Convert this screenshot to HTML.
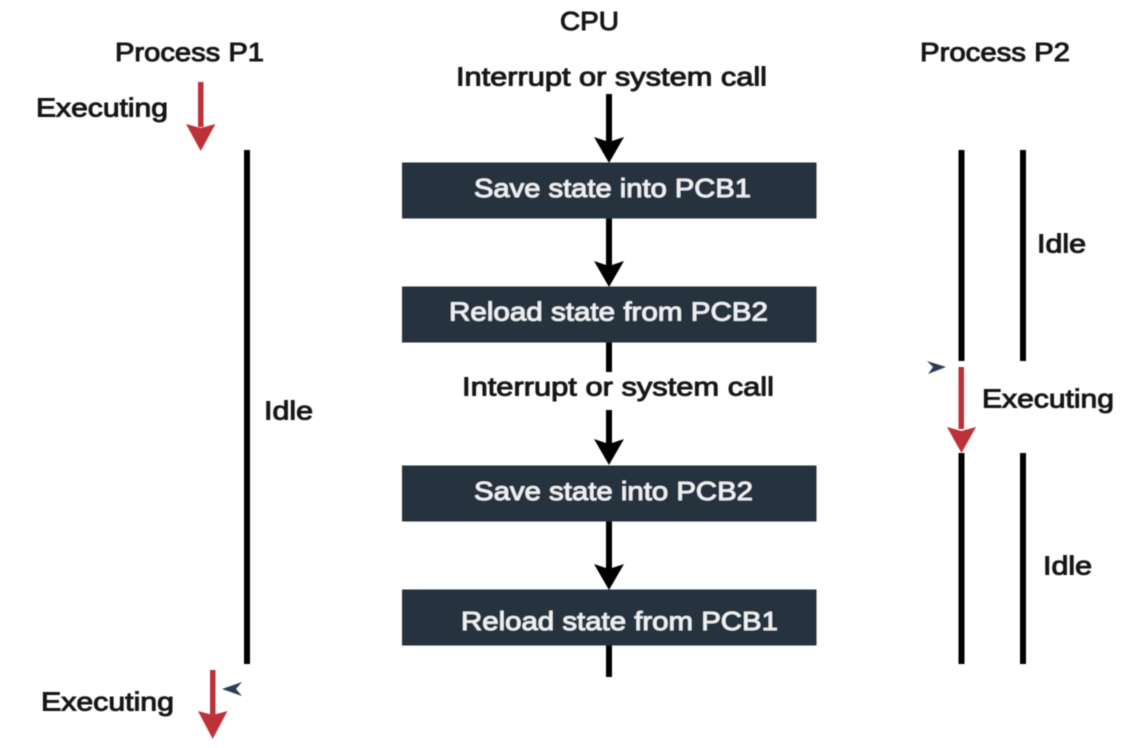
<!DOCTYPE html>
<html>
<head>
<meta charset="utf-8">
<style>
html,body{margin:0;padding:0;background:#fff;width:1144px;height:748px;overflow:hidden}
svg{display:block}
text{font-family:"Liberation Sans",sans-serif;font-size:26px;fill:#141414;stroke:#141414;stroke-width:.95px}
text.w{fill:#eef0f2;stroke:#eef0f2;stroke-width:.7px}
</style>
</head>
<body>
<svg width="1144" height="748" viewBox="0 0 1144 748" xmlns="http://www.w3.org/2000/svg">
<defs><filter id="b" x="-5%" y="-5%" width="110%" height="110%"><feGaussianBlur stdDeviation="0.55"/></filter></defs>
<g filter="url(#b)">
<!-- vertical idle lines -->
<g fill="#050505">
<rect x="244" y="150" width="6" height="514"/>
<rect x="958.5" y="150" width="6" height="211"/>
<rect x="1020" y="150" width="6" height="211"/>
<rect x="958.5" y="453" width="6" height="211"/>
<rect x="1020" y="453" width="6" height="211"/>
</g>
<!-- central connectors -->
<g fill="#050505">
<rect x="606" y="94" width="6" height="50"/>
<polygon points="594,137 609,142 624,137 609,163"/>
<rect x="606" y="218" width="6" height="50"/>
<polygon points="594,261 609,266 624,261 609,287"/>
<rect x="606" y="342" width="6" height="30"/>
<rect x="606" y="410" width="6" height="36"/>
<polygon points="594,439 609,444 624,439 609,465"/>
<rect x="606" y="521" width="6" height="50"/>
<polygon points="594,564 609,569 624,564 609,590"/>
<rect x="606" y="644" width="6" height="33"/>
</g>
<!-- boxes -->
<g fill="#25313e">
<rect x="402" y="162.5" width="414.5" height="56"/>
<rect x="402" y="286.5" width="414.5" height="56"/>
<rect x="402" y="465.5" width="414.5" height="56"/>
<rect x="402" y="589.5" width="414.5" height="56"/>
</g>
<!-- red arrows -->
<g fill="#bc3238">
<rect x="198" y="82" width="5.5" height="45"/>
<polygon points="186,124 200.7,128 215.5,124 200.7,151"/>
<rect x="958.5" y="367" width="5.5" height="62"/>
<polygon points="947,427 961.5,431 976,427 961.5,453"/>
<rect x="210" y="670" width="5.5" height="49"/>
<polygon points="198,711 212.7,715 227.5,711 212.7,739"/>
</g>
<!-- small navy arrowheads -->
<g fill="#2c3e55">
<polygon points="927,361 946,367 928,374 933,367"/>
<polygon points="242,682 222,689 242,696 236,689"/>
</g>
<!-- labels -->
<text x="560" y="30" textLength="59" lengthAdjust="spacingAndGlyphs">CPU</text>
<text x="115" y="61" textLength="149" lengthAdjust="spacingAndGlyphs">Process P1</text>
<text x="920" y="61" textLength="150" lengthAdjust="spacingAndGlyphs">Process P2</text>
<text x="456" y="85.500" textLength="311" lengthAdjust="spacingAndGlyphs">Interrupt or system call</text>
<text x="36" y="116.500" textLength="132" lengthAdjust="spacingAndGlyphs">Executing</text>
<text class="w" x="474" y="197" textLength="277" lengthAdjust="spacingAndGlyphs">Save state into PCB1</text>
<text x="1037" y="252.500" textLength="49" lengthAdjust="spacingAndGlyphs">Idle</text>
<text class="w" x="449" y="320.500" textLength="319" lengthAdjust="spacingAndGlyphs">Reload state from PCB2</text>
<text x="462" y="395.500" textLength="312" lengthAdjust="spacingAndGlyphs">Interrupt or system call</text>
<text x="982" y="407.500" textLength="132" lengthAdjust="spacingAndGlyphs">Executing</text>
<text x="264" y="419.500" textLength="49" lengthAdjust="spacingAndGlyphs">Idle</text>
<text class="w" x="474" y="500" textLength="279" lengthAdjust="spacingAndGlyphs">Save state into PCB2</text>
<text x="1043" y="574.500" textLength="49" lengthAdjust="spacingAndGlyphs">Idle</text>
<text class="w" x="461" y="630" textLength="317" lengthAdjust="spacingAndGlyphs">Reload state from PCB1</text>
<text x="41" y="710.500" textLength="133" lengthAdjust="spacingAndGlyphs">Executing</text>
</g>
</svg>
</body>
</html>
